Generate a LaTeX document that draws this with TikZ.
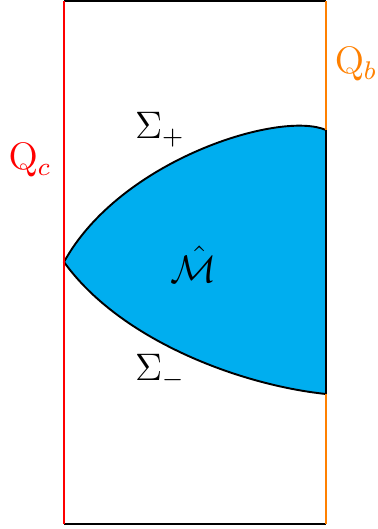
\documentclass[tikz,border=0pt]{standalone}
\usepackage{amsmath}
\definecolor{regionblue}{RGB}{0,174,239}
\definecolor{borange}{RGB}{255,128,0}
\begin{document}
\begin{tikzpicture}[x=0.011cm, y=-0.011cm, line width=0.6pt, every node/.style={inner sep=0pt}]
  \useasboundingbox (0,0) rectangle (377,529);
  % Corners of the strip and the tip of the region
  \coordinate (tl) at (64,1);
  \coordinate (tr) at (326,1);
  \coordinate (bl) at (64,524);
  \coordinate (br) at (326,524);
  \coordinate (tip) at (64,262);
  \coordinate (up) at (326,130);
  \coordinate (dn) at (326,394);
  % Shaded region bounded by Sigma_+ and Sigma_-
  \filldraw[fill=regionblue, draw=black] (tip)
    .. controls (120,160) and (280,110) .. (up)
    -- (dn)
    .. controls (240,385) and (120,340) .. (tip) -- cycle;
  % Boundaries
  \draw[black] (tl) -- (tr);
  \draw[black] (bl) -- (br);
  \draw[red] (tl) -- (bl);
  \draw[borange] (tr) -- (up);
  \draw[borange] (dn) -- (br);
  % Labels
  \node[red] (qc) at (30,160) {\large$\mathrm{Q}_c$};
  \node[borange] (qb) at (356,64) {\large$\mathrm{Q}_b$};
  \node (splus) at (160,130) {\large$\Sigma_+$};
  \node (sminus) at (160,372) {\large$\Sigma_-$};
  \node (mhat) at (194,264) {\large$\hat{\mathcal{M}}$};
\end{tikzpicture}
\end{document}
